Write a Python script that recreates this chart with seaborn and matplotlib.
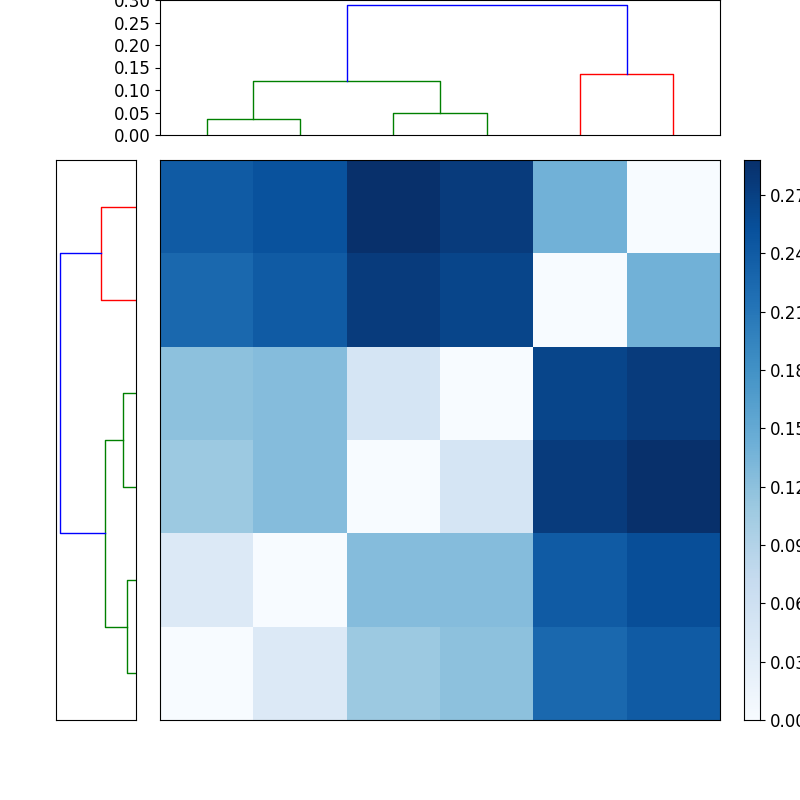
import numpy as np
import matplotlib
matplotlib.use("Agg")
import matplotlib.pyplot as plt
import seaborn as sns

# distance matrix, row 0 = bottom row of the picture
dist = np.array([
    [0.00, 0.04, 0.11, 0.12, 0.225, 0.24],
    [0.04, 0.00, 0.125, 0.125, 0.24, 0.255],
    [0.11, 0.125, 0.00, 0.05, 0.275, 0.288],
    [0.12, 0.125, 0.05, 0.00, 0.265, 0.275],
    [0.225, 0.24, 0.275, 0.265, 0.00, 0.14],
    [0.24, 0.25, 0.288, 0.275, 0.14, 0.00],
])

# linkage: (left id, right id, height, colour); new clusters get ids 6, 7, ...
merges = [
    (0, 1, 0.035, "green"),
    (2, 3, 0.048, "green"),
    (6, 7, 0.120, "green"),
    (4, 5, 0.135, "red"),
    (8, 9, 0.288, "blue"),
]
cbar_ticks = [0.00, 0.03, 0.06, 0.09, 0.12, 0.15, 0.18, 0.21, 0.24, 0.27]


def dendro_segments():
    n = dist.shape[0]
    pos = {i: 5 + 10 * i for i in range(n)}
    hgt = {i: 0.0 for i in range(n)}
    segs = []
    for k, (a, b, h, c) in enumerate(merges):
        xa, xb = pos[a], pos[b]
        segs.append(([xa, xa, xb, xb], [hgt[a], h, h, hgt[b]], c))
        pos[n + k] = (xa + xb) / 2
        hgt[n + k] = h
    return segs


fig = plt.figure(figsize=(8, 8), dpi=100)
ax_top = fig.add_axes([0.2, 0.83125, 0.7, 0.16875])
ax_left = fig.add_axes([0.07, 0.1, 0.1, 0.7])
ax_heat = fig.add_axes([0.2, 0.1, 0.7, 0.7])
ax_cbar = fig.add_axes([0.93, 0.1, 0.02, 0.7])

for xs, ys, c in dendro_segments():
    ax_top.plot(xs, ys, color=c, lw=1)
    ax_left.plot(ys, xs, color=c, lw=1)

ax_top.set_xlim(0, 60)
ax_top.set_ylim(0, 0.30)
ax_top.set_xticks([])
ax_top.set_yticks(np.arange(0, 0.31, 0.05))
ax_top.yaxis.set_major_formatter(matplotlib.ticker.FormatStrFormatter("%.2f"))
ax_top.tick_params(labelsize=12)

ax_left.set_ylim(0, 60)
ax_left.set_xlim(0.305, 0)
ax_left.set_xticks([])
ax_left.set_yticks([])

sns.heatmap(dist, ax=ax_heat, cbar_ax=ax_cbar, cmap="Blues", vmin=0, vmax=0.288,
            xticklabels=False, yticklabels=False,
            cbar_kws={"ticks": cbar_ticks, "format": "%.2f"})
ax_heat.invert_yaxis()
for s in ax_heat.spines.values():
    s.set_visible(True)
    s.set_color("black")
ax_cbar.tick_params(labelsize=12)
ax_cbar.set_frame_on(True)
for s in ax_cbar.spines.values():
    s.set_visible(True)
    s.set_color("black")

fig.savefig("out.png", dpi=100)
